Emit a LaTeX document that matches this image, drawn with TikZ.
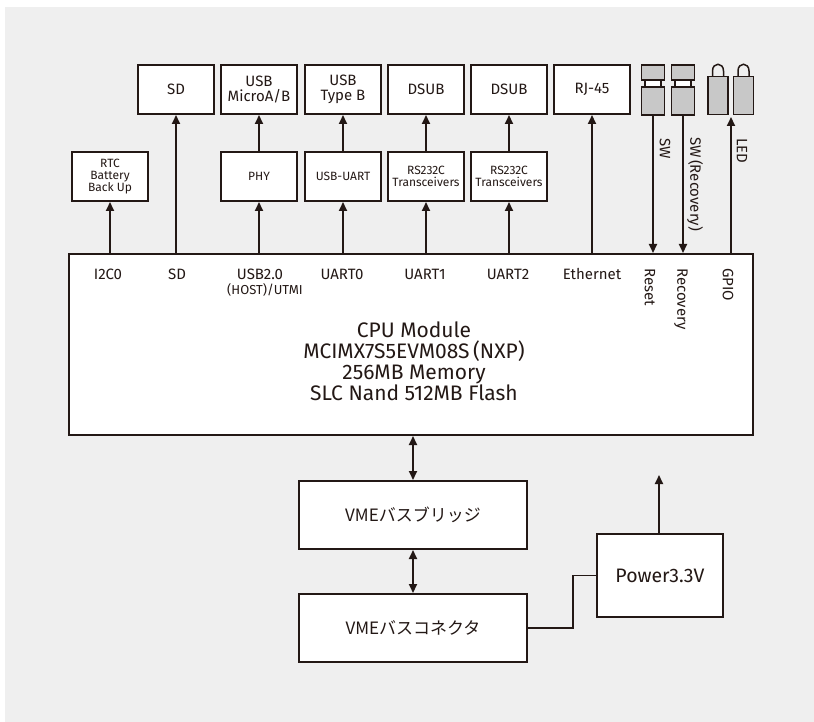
\documentclass[tikz,border=0pt]{standalone}
\usepackage{fontspec}
\setmainfont{Fira Sans}
\newfontfamily\jpfont{Noto Sans CJK JP}
\usepackage{tikz}
\usetikzlibrary{arrows.meta, positioning, backgrounds}
\definecolor{ink}{HTML}{231815}
\definecolor{panel}{HTML}{EFEFEF}
\definecolor{knob}{HTML}{C8C8C8}
\tikzset{
  bigbox/.style={draw=ink, line width=2pt, fill=white, minimum width=76pt, minimum height=49pt, inner sep=0pt, align=center, text=ink, font=\fontsize{15}{14.5}\selectfont}, % Define the connector box style
  smallbox/.style={bigbox, font=\fontsize{12}{12}\selectfont},
  port/.style={text=ink, inner sep=0pt, font=\fontsize{15}{15}\selectfont},
  vport/.style={text=ink, inner sep=0pt, rotate=-90, anchor=west, font=\fontsize{15}{15}\selectfont},
  knobpart/.style={draw=ink, line width=1.8pt, fill=knob},
  link/.style={draw=ink, line width=2pt, -{Triangle[length=9pt,width=8pt]}},
  dlink/.style={link, {Triangle[length=9pt,width=8pt]}-{Triangle[length=9pt,width=8pt]}},
  wire/.style={draw=ink, line width=1.5pt}
}

\begin{document}
\begin{tikzpicture}[x=1pt, y=-1pt]
    \useasboundingbox (0,0) rectangle (814,722);
    \fill[panel] (5,7) rectangle (814,722);

    % Connectors
    \node[bigbox] (sdcard) at (176,89.5) {SD};
    \node[bigbox, right of=sdcard, node distance=83pt] (usbmicro) {USB\\MicroA/B};
    \node[bigbox, right of=usbmicro, node distance=84pt] (usbtypeb) {USB\\Type B};
    \node[bigbox, right of=usbtypeb, node distance=83pt] (dsubA) {DSUB};
    \node[bigbox, right of=dsubA, node distance=83pt] (dsubB) {DSUB};
    \node[bigbox, right of=dsubB, node distance=83pt] (rjport) {RJ-45};

    % Interface chips
    \node[smallbox] (rtc) at (110,176.5) {RTC\\Battery\\Back Up};
    \node[smallbox, below of=usbmicro, node distance=87pt] (phy) {PHY};
    \node[smallbox, below of=usbtypeb, node distance=87pt] (usbuart) {USB-UART};
    \node[smallbox, below of=dsubA, node distance=87pt] (rsA) {RS232C\\Transceivers};
    \node[smallbox, below of=dsubB, node distance=87pt] (rsB) {RS232C\\Transceivers};

    % Switches and LEDs
    \node[knobpart, minimum width=23pt, minimum height=15pt] (swcapA) at (653,72.5) {};
    \node[knobpart, minimum width=23pt, minimum height=28pt] (swA) at (653,101) {};
    \draw[ink, line width=2pt, fill=white] (645,80) rectangle (661,87);
    \node[knobpart, minimum width=23pt, minimum height=15pt] (swcapB) at (683,72.5) {};
    \node[knobpart, minimum width=23pt, minimum height=28pt] (swB) at (683,101) {};
    \draw[ink, line width=2pt, fill=white] (675,80) rectangle (691,87);
    \draw[ink, line width=1.5pt] (712.5,77) -- (712.5,71) .. controls (712.5,62) and (723.5,62) .. (723.5,71) -- (723.5,77);
    \draw[ink, line width=1.5pt] (738,77) -- (738,71) .. controls (738,62) and (749,62) .. (749,71) -- (749,77);
    \node[knobpart, minimum width=20pt, minimum height=38pt] (ledA) at (718,95.5) {};
    \node[knobpart, minimum width=20pt, minimum height=38pt] (ledB) at (743.5,95.5) {};
    \coordinate (ledgap) at (731,117);

    % CPU module
    \node[draw=ink, line width=2pt, fill=white, minimum width=684pt, minimum height=181pt] (cpu) at (411,344.5) {};
    \node[text=ink, align=center, font=\fontsize{21}{21}\selectfont] (cpulabel) at (414,361) {CPU Module\\MCIMX7S5EVM08S\,(NXP)\\256MB Memory\\SLC Nand 512MB Flash};
    \node[port] (i2c) at (108,274) {I2C0};
    \node[port] (sdport) at (177,274) {SD};
    \node[port] (usbport) at (260,274) {USB2.0};
    \node[port, font=\fontsize{13}{13}\selectfont] (utmi) at (265,290) {(HOST)/UTMI};
    \node[port] (uartA) at (342,274) {UART0};
    \node[port] (uartB) at (425,274) {UART1};
    \node[port] (uartC) at (508,274) {UART2};
    \node[port] (ether) at (592,274) {Ethernet};
    \node[vport] (resetport) at (650,268) {Reset};
    \node[vport] (recport) at (681,268) {Recovery};
    \node[vport] (gpioport) at (728,268) {GPIO};
    \node[vport] (swlabel) at (665,138) {SW};
    \node[vport] (reclabel) at (695,137) {SW\,(Recovery)};
    \node[vport] (ledlabel) at (742,138) {LED};

    % VME side
    \node[bigbox, minimum width=228pt, minimum height=68pt, font=\jpfont\fontsize{17}{17}\selectfont] (bridge) at (413,515) {VMEバスブリッジ};
    \node[bigbox, minimum width=228pt, minimum height=68pt, font=\jpfont\fontsize{17}{17}\selectfont] (vmecon) at (413,628) {VMEバスコネクタ};
    \node[bigbox, minimum width=126pt, minimum height=83pt, font=\fontsize{19.5}{20}\selectfont] (power) at (660,575.5) {Power3.3V};
    \coordinate (pwrout) at (659,475);

    % Edges
    \draw[link] (rtc.south |- cpu.north) -- (rtc.south);
    \draw[link] (sdcard.south |- cpu.north) -- (sdcard.south);
    \draw[link] (phy.south |- cpu.north) -- (phy.south);
    \draw[link] (phy.north) -- (usbmicro.south);
    \draw[link] (usbuart.south |- cpu.north) -- (usbuart.south);
    \draw[link] (usbuart.north) -- (usbtypeb.south);
    \draw[link] (rsA.south |- cpu.north) -- (rsA.south);
    \draw[link] (rsA.north) -- (dsubA.south);
    \draw[link] (rsB.south |- cpu.north) -- (rsB.south);
    \draw[link] (rsB.north) -- (dsubB.south);
    \draw[link] (rjport.south |- cpu.north) -- (rjport.south);
    \draw[link] (swA.south) -- (swA.south |- cpu.north);
    \draw[link] (swB.south) -- (swB.south |- cpu.north);
    \draw[link] (ledgap |- cpu.north) -- (ledgap);
    \draw[dlink] (bridge.north |- cpu.south) -- (bridge.north);
    \draw[dlink] (bridge.south) -- (vmecon.north);
    \draw[link] (pwrout |- power.north) -- (pwrout);
    \draw[wire] (vmecon.east) -- ++(45,0) |- (power.west);

\end{tikzpicture}
\end{document}
